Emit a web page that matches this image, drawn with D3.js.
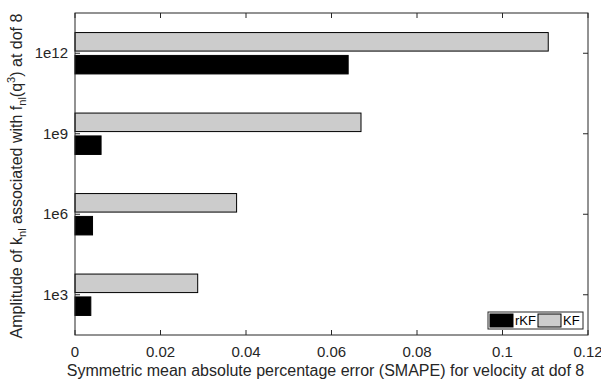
<html>
<head>
    <title>SMAPE bars</title>
    <script src="https://d3js.org/d3.v7.min.js"></script>
    <style>
        body { margin: 0; background: #fff; }
        text { font-family: "Liberation Sans", Arial, sans-serif; }
    </style>
</head>
<body>
<script>
    const categories = ['1e3', '1e6', '1e9', '1e12']
    const rKF = [0.0037, 0.0041, 0.0061, 0.0639]
    const KF = [0.0287, 0.0378, 0.0669, 0.1107]
    const xTicks = [0, 0.02, 0.04, 0.06, 0.08, 0.1, 0.12]
    const seriesNames = ['rKF', 'KF']
    const seriesColors = ['#000000', '#cccccc']

    const width = 601, height = 382
    const plotLeft = 75, plotRight = 588, plotTop = 13, plotBottom = 335

    const svg = d3.select('body').append('svg')
        .attr('width', width)
        .attr('height', height)

    const x = d3.scaleLinear().domain([0, 0.12]).range([plotLeft, plotRight])
    // category positions 1..4 like matlab barh
    const y = d3.scaleLinear().domain([0.5, categories.length + 0.5]).range([plotBottom, plotTop])

    const barH = 0.23
    const offsets = [0.142, -0.142]   // rKF below tick, KF above
    const series = [rKF, KF]

    const gBars = svg.append('g')
    series.forEach((vals, s) => {
        gBars.selectAll('.bar' + s)
            .data(vals)
            .enter()
            .append('rect')
            .attr('x', x(0))
            .attr('y', (d, i) => y(i + 1 - offsets[s] + barH / 2))
            .attr('width', d => x(d) - x(0))
            .attr('height', y(0) - y(barH))
            .attr('fill', seriesColors[s])
            .attr('stroke', '#000')
            .attr('stroke-width', 1)
    })

    // frame
    svg.append('rect')
        .attr('x', plotLeft).attr('y', plotTop)
        .attr('width', plotRight - plotLeft).attr('height', plotBottom - plotTop)
        .attr('fill', 'none')
        .attr('stroke', '#262626')
        .attr('stroke-width', 1)

    const tickLen = 5
    const gAxis = svg.append('g').attr('stroke', '#262626')
    xTicks.forEach(t => {
        gAxis.append('line').attr('x1', x(t)).attr('x2', x(t)).attr('y1', plotBottom).attr('y2', plotBottom - tickLen)
        gAxis.append('line').attr('x1', x(t)).attr('x2', x(t)).attr('y1', plotTop).attr('y2', plotTop + tickLen)
    })
    categories.forEach((c, i) => {
        gAxis.append('line').attr('x1', plotLeft).attr('x2', plotLeft + tickLen).attr('y1', y(i + 1)).attr('y2', y(i + 1))
        gAxis.append('line').attr('x1', plotRight).attr('x2', plotRight - tickLen).attr('y1', y(i + 1)).attr('y2', y(i + 1))
    })

    svg.append('g').selectAll('text')
        .data(xTicks)
        .enter()
        .append('text')
        .attr('x', d => x(d))
        .attr('y', 357)
        .attr('text-anchor', 'middle')
        .attr('font-size', 15)
        .attr('fill', '#262626')
        .text(d => d3.format('~g')(d))

    svg.append('g').selectAll('text')
        .data(categories)
        .enter()
        .append('text')
        .attr('x', plotLeft - 7)
        .attr('y', (d, i) => y(i + 1) + 5)
        .attr('text-anchor', 'end')
        .attr('font-size', 15)
        .attr('fill', '#262626')
        .text(d => d)

    svg.append('text')
        .attr('x', (plotLeft + plotRight) / 2 - 6)
        .attr('y', 376)
        .attr('text-anchor', 'middle')
        .attr('font-size', 16)
        .attr('fill', '#262626')
        .text('Symmetric mean absolute percentage error (SMAPE) for velocity at dof 8')

    const yl = svg.append('text')
        .attr('transform', 'translate(22,' + 176 + ') rotate(-90)')
        .attr('text-anchor', 'middle')
        .attr('font-size', 16)
        .attr('fill', '#262626')
    yl.append('tspan').text('Amplitude of k')
    yl.append('tspan').attr('dy', 4).attr('font-size', 11).text('nl')
    yl.append('tspan').attr('dy', -4).text(' associated with f')
    yl.append('tspan').attr('dy', 4).attr('font-size', 11).text('nl')
    yl.append('tspan').attr('dy', -4).text('(q')
    yl.append('tspan').attr('dy', -7).attr('font-size', 11).text('3')
    yl.append('tspan').attr('dy', 7).text(') at dof 8')

    // legend
    const lg = svg.append('g')
    lg.append('rect')
        .attr('x', 488).attr('y', 312).attr('width', 95).attr('height', 17)
        .attr('fill', '#fff').attr('stroke', '#262626')
    const legX = [490, 538]
    seriesNames.forEach((n, i) => {
        lg.append('rect')
            .attr('x', legX[i]).attr('y', 314).attr('width', 23).attr('height', 13)
            .attr('fill', seriesColors[i]).attr('stroke', '#000')
        lg.append('text')
            .attr('x', legX[i] + 25).attr('y', 325)
            .attr('font-size', 13)
            .attr('fill', '#000')
            .text(n)
    })
</script>
</body>
</html>
